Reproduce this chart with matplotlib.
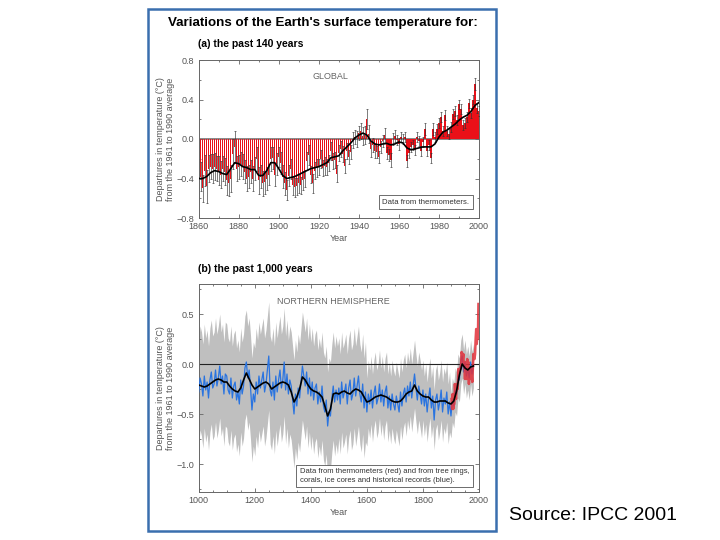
import numpy as np
import matplotlib
matplotlib.use('Agg')
import matplotlib.pyplot as plt
from matplotlib.patches import Rectangle
from matplotlib.ticker import MultipleLocator

plt.rcParams['font.family'] = ['Liberation Sans', 'DejaVu Sans']

# ---- (a) global, annual 1861-2000 ----
years_a = np.arange(1861, 2001)
temp_a = [
    -0.38, -0.50, -0.32, -0.48, -0.30, -0.28, -0.30, -0.28, -0.30, -0.32,
    -0.36, -0.30, -0.33, -0.42, -0.45, -0.40, -0.15, -0.08, -0.30, -0.28,
    -0.25, -0.28, -0.33, -0.40, -0.38, -0.33, -0.40, -0.30, -0.20, -0.42,
    -0.38, -0.45, -0.44, -0.40, -0.36, -0.20, -0.19, -0.36, -0.25, -0.18,
    -0.24, -0.38, -0.45, -0.52, -0.37, -0.30, -0.47, -0.49, -0.48, -0.45,
    -0.47, -0.42, -0.40, -0.22, -0.16, -0.36, -0.45, -0.32, -0.29, -0.28,
    -0.20, -0.29, -0.27, -0.28, -0.24, -0.12, -0.22, -0.21, -0.35, -0.14,
    -0.10, -0.15, -0.27, -0.12, -0.18, -0.13, -0.01, 0.02, 0.00, 0.06,
    0.08, 0.03, 0.04, 0.20, 0.05, -0.10, -0.06, -0.12, -0.13, -0.18,
    -0.08, -0.02, 0.04, -0.14, -0.16, -0.21, 0.00, 0.03, -0.01, -0.05,
    0.02, 0.00, 0.02, -0.22, -0.14, -0.08, -0.06, -0.11, 0.02, -0.02,
    -0.12, -0.03, 0.10, -0.12, -0.06, -0.19, 0.10, 0.02, 0.10, 0.16,
    0.22, 0.08, 0.24, 0.08, 0.05, 0.12, 0.25, 0.28, 0.19, 0.35,
    0.30, 0.14, 0.16, 0.22, 0.36, 0.26, 0.40, 0.56, 0.31, 0.28,
]
err_a = [
    0.15, 0.14, 0.16, 0.17, 0.14, 0.13, 0.15, 0.14, 0.13, 0.15,
    0.14, 0.13, 0.14, 0.15, 0.13, 0.14, 0.15, 0.16, 0.13, 0.12,
    0.12, 0.13, 0.12, 0.13, 0.12, 0.12, 0.13, 0.12, 0.12, 0.14,
    0.12, 0.13, 0.12, 0.12, 0.11, 0.12, 0.11, 0.12, 0.11, 0.10,
    0.11, 0.12, 0.12, 0.10, 0.11, 0.10, 0.10, 0.10, 0.09, 0.10,
    0.09, 0.10, 0.09, 0.09, 0.10, 0.09, 0.10, 0.09, 0.09, 0.08,
    0.09, 0.08, 0.09, 0.08, 0.08, 0.09, 0.08, 0.08, 0.09, 0.08,
    0.08, 0.08, 0.07, 0.08, 0.07, 0.07, 0.08, 0.07, 0.08, 0.07,
    0.08, 0.09, 0.09, 0.10, 0.09, 0.08, 0.07, 0.07, 0.06, 0.06,
    0.06, 0.06, 0.07, 0.06, 0.06, 0.07, 0.06, 0.06, 0.05, 0.06,
    0.05, 0.05, 0.05, 0.06, 0.05, 0.05, 0.05, 0.05, 0.05, 0.05,
    0.05, 0.05, 0.06, 0.05, 0.05, 0.05, 0.06, 0.05, 0.05, 0.05,
    0.05, 0.05, 0.05, 0.05, 0.05, 0.05, 0.05, 0.05, 0.05, 0.05,
    0.05, 0.05, 0.05, 0.05, 0.05, 0.05, 0.05, 0.06, 0.05, 0.05,
]
# smoothed curve, every 2 years 1860-2000
smooth_years_a = np.arange(1860, 2001, 2)
smooth_a = [
    -0.40, -0.40, -0.38, -0.34, -0.32, -0.33, -0.35, -0.36, -0.30, -0.24,
    -0.25, -0.28, -0.29, -0.31, -0.31, -0.37, -0.37, -0.32, -0.24, -0.24,
    -0.30, -0.37, -0.40, -0.39, -0.38, -0.36, -0.34, -0.32, -0.30, -0.29,
    -0.28, -0.26, -0.24, -0.19, -0.18, -0.17, -0.12, -0.08, -0.04, 0.01,
    0.04, 0.06, 0.04, -0.02, -0.05, -0.06, -0.05, -0.045, -0.06, -0.05,
    -0.03, -0.04, -0.09, -0.11, -0.10, -0.09, -0.08, -0.08, -0.08, -0.05,
    0.02, 0.07, 0.09, 0.12, 0.15, 0.19, 0.22, 0.24, 0.28, 0.34, 0.37,
]

# ---- (b) northern hemisphere, 1000-1980 (5-year steps) ----
years_b = np.arange(1000, 1981, 5)
proxy_b = [
    # 1000s
    -0.28, -0.14, -0.20, -0.32, -0.12, -0.26, -0.18, -0.34, -0.16, -0.08,
    -0.24, -0.20, -0.06, -0.22, -0.14, -0.02, -0.20, -0.12, -0.30, -0.10,
    # 1100s
    -0.12, -0.26, -0.30, -0.14, -0.34, -0.22, -0.18, -0.36, -0.28, -0.40,
    -0.16, -0.30, -0.22, -0.04, 0.02, -0.14, -0.06, -0.24, -0.46, -0.30,
    # 1200s
    -0.38, -0.18, -0.30, -0.12, -0.24, -0.16, -0.08, -0.28, -0.20, -0.06,
    0.08, -0.26, -0.32, -0.18, -0.36, -0.12, -0.28, -0.16, -0.06, -0.24,
    # 1300s
    -0.16, 0.02, -0.26, -0.10, -0.30, -0.16, -0.22, -0.36, -0.50, -0.30,
    -0.42, -0.24, -0.34, -0.18, -0.02, -0.12, -0.22, -0.08, -0.30, -0.14,
    # 1400s
    -0.32, -0.18, -0.36, -0.24, -0.20, -0.40, -0.28, -0.38, -0.22, -0.42,
    -0.48, -0.36, -0.62, -0.48, -0.52, -0.34, -0.22, -0.38, -0.26, -0.36,
    # 1500s
    -0.24, -0.40, -0.18, -0.34, -0.28, -0.20, -0.40, -0.24, -0.16, -0.36,
    -0.30, -0.14, -0.32, -0.22, -0.12, -0.30, -0.38, -0.20, -0.44, -0.28,
    # 1600s
    -0.48, -0.30, -0.40, -0.26, -0.44, -0.30, -0.22, -0.40, -0.34, -0.20,
    -0.38, -0.26, -0.42, -0.28, -0.22, -0.44, -0.32, -0.46, -0.30, -0.40,
    # 1700s
    -0.46, -0.32, -0.40, -0.48, -0.28, -0.42, -0.30, -0.24, -0.38, -0.22,
    -0.32, -0.18, -0.34, -0.22, -0.10, -0.24, -0.36, -0.22, -0.30, -0.40,
    # 1800s
    -0.26, -0.42, -0.30, -0.48, -0.34, -0.24, -0.44, -0.32, -0.56, -0.36,
    -0.30, -0.46, -0.38, -0.26, -0.48, -0.34, -0.40, -0.28, -0.50, -0.38,
    # 1900-1980
    -0.52, -0.36, -0.42, -0.26, -0.30, -0.12, -0.16, 0.02, 0.08, -0.08,
    0.02, -0.12, -0.04, -0.14, 0.02, -0.10, -0.02,
]
# 2-sigma half width of the grey band, per century
band_half = [0.52, 0.52, 0.54, 0.54, 0.54, 0.50, 0.34, 0.34, 0.30, 0.22]
band_count = [20, 20, 20, 20, 20, 20, 20, 20, 20, 17]

smooth_years_b = np.arange(1000, 1981, 10)
smooth_b = [
    -0.21, -0.22, -0.23, -0.22, -0.20, -0.18, -0.16, -0.15, -0.16, -0.18,
    -0.18, -0.22, -0.25, -0.27, -0.28, -0.24, -0.16, -0.09, -0.15, -0.21,
    -0.25, -0.23, -0.21, -0.19, -0.18, -0.20, -0.25, -0.23, -0.21, -0.19,
    -0.18, -0.19, -0.21, -0.28, -0.38, -0.33, -0.25, -0.13, -0.16, -0.21,
    -0.25, -0.27, -0.28, -0.30, -0.33, -0.42, -0.52, -0.45, -0.30, -0.29,
    -0.30, -0.28, -0.27, -0.29, -0.30, -0.27, -0.25, -0.26, -0.28, -0.33,
    -0.38, -0.37, -0.35, -0.33, -0.32, -0.31, -0.32, -0.33, -0.35, -0.37,
    -0.38, -0.38, -0.37, -0.34, -0.30, -0.28, -0.27, -0.21, -0.27, -0.30,
    -0.32, -0.33, -0.33, -0.36, -0.38, -0.38, -0.37, -0.37, -0.37, -0.39,
    -0.40, -0.37, -0.27, -0.11, 0.00, -0.04, -0.06, -0.03, -0.02,
]

# thermometer record for the northern hemisphere, 1902-1998
years_red = np.arange(1902, 1999, 2)
red_b = [
    -0.35, -0.45, -0.30, -0.45, -0.40, -0.40, -0.20, -0.30, -0.35, -0.25,
    -0.20, -0.25, -0.05, -0.12, -0.05, -0.05, -0.05, 0.00, 0.12, 0.10,
    0.05, 0.10, -0.02, -0.02, -0.15, 0.02, -0.05, -0.15, 0.05, 0.00,
    0.02, -0.20, -0.05, -0.12, -0.05, -0.15, -0.12, -0.18, -0.05, 0.10,
    0.05, 0.05, 0.10, 0.25, 0.35, 0.20, 0.30, 0.25, 0.60,
]

GREY_TXT = '#555555'
SPINE = '#666666'


def style_axes(ax):
    for s in ax.spines.values():
        s.set_color(SPINE)
        s.set_linewidth(0.7)
    ax.tick_params(which='both', direction='in', top=True, right=True,
                   colors=SPINE, labelcolor=GREY_TXT, labelsize=6.5,
                   width=0.6, pad=3)
    ax.tick_params(which='major', length=3)
    ax.tick_params(which='minor', length=1.5)


fig = plt.figure(figsize=(7.2, 5.4), dpi=100)
fig.patch.set_facecolor('white')

# blue frame around the figure
fig.patches.append(Rectangle((148 / 720, 1 - 531 / 540), 348 / 720, 522 / 540,
                             transform=fig.transFigure, fill=False,
                             ec='#3a6fae', lw=1.8, zorder=0))

fig.text(168 / 720, 1 - 26 / 540,
         "Variations of the Earth's surface temperature for:",
         fontsize=9.6, fontweight='bold', va='baseline', ha='left')
fig.text(198 / 720, 1 - 47 / 540, '(a) the past 140 years',
         fontsize=7.5, fontweight='bold', va='baseline', ha='left')
fig.text(198 / 720, 1 - 272 / 540, '(b) the past 1,000 years',
         fontsize=7.5, fontweight='bold', va='baseline', ha='left')
fig.text(509 / 720, 1 - 520 / 540, 'Source: IPCC 2001',
         fontsize=14, va='baseline', ha='left')

# ---- panel a ----
ax1 = fig.add_axes([198.7 / 720, 1 - 218 / 540, 280.3 / 720, 158 / 540])
ax1.bar(years_a, temp_a, width=0.6, color='#ea1018', edgecolor='none', zorder=2)
ax1.errorbar(years_a, temp_a, yerr=err_a, fmt='none', ecolor='#333333',
             elinewidth=0.45, capsize=1.0, capthick=0.45, zorder=3)
ax1.plot(smooth_years_a, smooth_a, color='black', lw=1.2, zorder=4)
ax1.axhline(0, color='#888888', lw=1.4, zorder=1)
ax1.set_xlim(1860, 2000)
ax1.set_ylim(-0.8, 0.8)
ax1.xaxis.set_major_locator(MultipleLocator(20))
ax1.xaxis.set_minor_locator(MultipleLocator(10))
ax1.yaxis.set_minor_locator(MultipleLocator(0.2))
ax1.set_yticks([0.8, 0.4, 0.0, -0.4, -0.8])
ax1.set_yticklabels(['0.8', '0.4', '0.0', '\u22120.4', '\u22120.8'])
style_axes(ax1)
ax1.set_xlabel('Year', fontsize=6.5, color=GREY_TXT, labelpad=2)
ax1.set_ylabel('Departures in temperature (\u00b0C)\nfrom the 1961 to 1990 average',
               fontsize=6.5, color=GREY_TXT, labelpad=1.5, linespacing=1.1)
ax1.text(0.47, 0.895, 'GLOBAL', transform=ax1.transAxes, fontsize=6.5,
         color='#666666', ha='center', va='center')
ax1.text(0.965, 0.1, 'Data from thermometers.', transform=ax1.transAxes,
         fontsize=5.6, color='#333333', ha='right', va='center',
         bbox=dict(boxstyle='square,pad=0.45', fc='white', ec='#555555', lw=0.6),
         zorder=6)

# ---- panel b ----
ax2 = fig.add_axes([198.7 / 720, 1 - 492 / 540, 280.3 / 720, 208 / 540])
half = np.repeat(band_half, band_count)
proxy = np.array(proxy_b)
ax2.fill_between(years_b, proxy - half, proxy + half, color='#bfbfbf', lw=0, zorder=1)
ax2.axhline(0, color='#222222', lw=0.8, zorder=2)
ax2.plot(years_b, proxy, color='#2a74e0', lw=0.9, zorder=3)
ax2.plot(years_red, red_b, color='#e2303a', lw=1.8, alpha=0.85, zorder=4)
ax2.plot(smooth_years_b, smooth_b, color='black', lw=1.2, zorder=5)
ax2.set_xlim(1000, 2000)
ax2.set_ylim(-1.28, 0.8)
ax2.xaxis.set_major_locator(MultipleLocator(200))
ax2.xaxis.set_minor_locator(MultipleLocator(50))
ax2.set_yticks([0.5, 0.0, -0.5, -1.0])
ax2.set_yticklabels(['0.5', '0.0', '\u22120.5', '\u22121.0'])
ax2.yaxis.set_minor_locator(MultipleLocator(0.25))
style_axes(ax2)
ax2.set_xlabel('Year', fontsize=6.5, color=GREY_TXT, labelpad=2)
ax2.set_ylabel('Departures in temperature (\u00b0C)\nfrom the 1961 to 1990 average',
               fontsize=6.5, color=GREY_TXT, labelpad=1.5, linespacing=1.1)
ax2.text(0.48, 0.915, 'NORTHERN HEMISPHERE', transform=ax2.transAxes,
         fontsize=6.5, color='#666666', ha='center', va='center')
ax2.text(0.36, 0.078,
         'Data from thermometers (red) and from tree rings,\n'
         'corals, ice cores and historical records (blue).',
         transform=ax2.transAxes, fontsize=5.5, color='#333333',
         ha='left', va='center', linespacing=1.3,
         bbox=dict(boxstyle='square,pad=0.45', fc='white', ec='#555555', lw=0.6),
         zorder=6)

fig.savefig('out.png', dpi=100, facecolor='white')
